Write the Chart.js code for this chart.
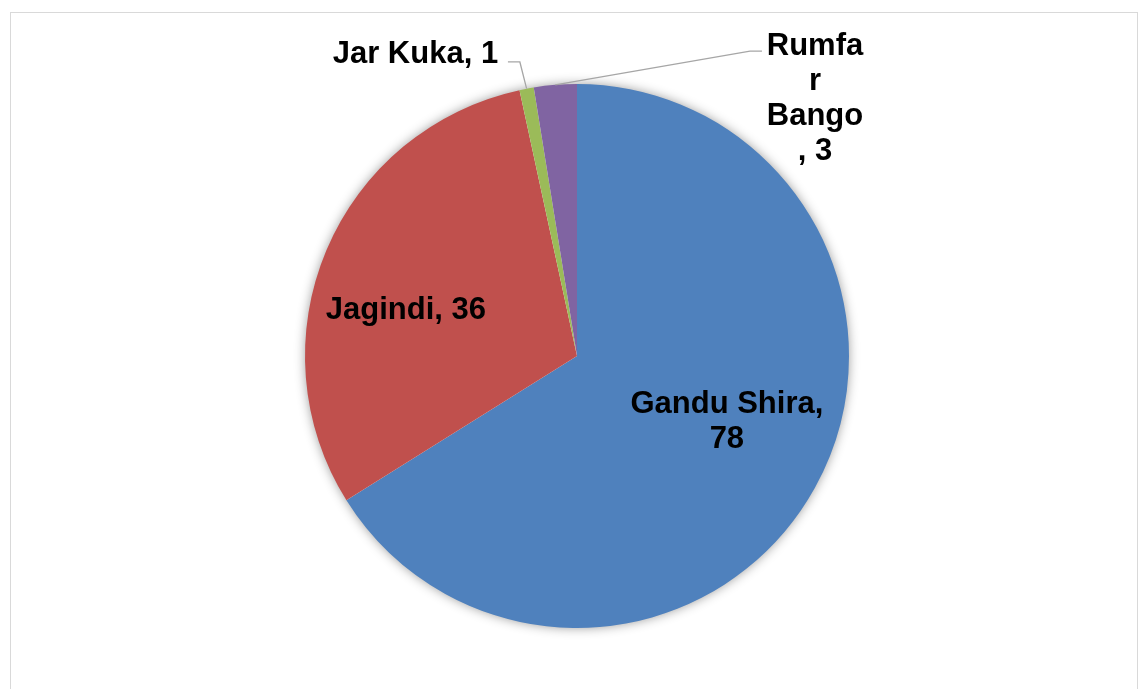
<!DOCTYPE html>
<html>
<head>
<meta charset="utf-8">
<script src="https://cdn.jsdelivr.net/npm/chart.js@4/dist/chart.umd.min.js"></script>
<style>
  html, body { margin: 0; padding: 0; background: #fff; }
  #frame { position: absolute; left: 10px; top: 12px; width: 1128px; height: 700px;
           border: 1.5px solid #d9d9d9; box-sizing: border-box; }
  #wrap { position: absolute; left: 0; top: 0; width: 1147px; height: 689px; }
</style>
</head>
<body>
<div id="frame"></div>
<div id="wrap"><canvas id="myChart"></canvas></div>
<script>
// villages and counts
const labels = ['Gandu Shira', 'Jagindi', 'Jar Kuka', 'Rumfar Bango'];
const values = [78, 36, 1, 3];
const colors = ['#4F81BD', '#C0504D', '#9BBB59', '#8064A2'];

// label placement, in units of pie radius from the centre
const labelPlace = [
  { x: 0.551, y: 0.210, align: 'center', wrap: 220 },
  { x: -0.629, y: -0.136, align: 'center', wrap: 220 },
  { x: -0.29, y: -1.077, align: 'right', wrap: 400, elbow: [-0.21, -1.081], tail: -0.044 },
  { x: 0.875, y: -1.107, align: 'center', wrap: 101, elbow: [0.636, -1.121], tail: 0.044 }
];

function wrapText(ctx, text, maxW) {
  const words = text.split(' ');
  const lines = [];
  let cur = '';
  words.forEach((w, i) => {
    let piece = (i === 0 ? '' : ' ') + w;
    if (cur !== '' && ctx.measureText(cur + piece).width > maxW) {
      lines.push(cur);
      cur = '';
      piece = w;
    }
    // break a word that is too wide on its own
    while (ctx.measureText(cur + piece).width > maxW) {
      let n = 0;
      while (n < piece.length && ctx.measureText(cur + piece.slice(0, n + 1)).width <= maxW) n++;
      lines.push(cur + piece.slice(0, n));
      cur = '';
      piece = piece.slice(n);
    }
    cur += piece;
  });
  if (cur !== '') lines.push(cur);
  return lines;
}

const shadowPlugin = {
  id: 'shadow',
  beforeDatasetsDraw(chart) {
    const arc = chart.getDatasetMeta(0).data[0];
    const ctx = chart.ctx;
    ctx.save();
    ctx.shadowColor = 'rgba(0,0,0,0.45)';
    ctx.shadowBlur = 12;
    ctx.fillStyle = '#fff';
    ctx.beginPath();
    ctx.arc(arc.x, arc.y, arc.outerRadius - 1, 0, Math.PI * 2);
    ctx.fill();
    ctx.restore();
  }
};

const labelPlugin = {
  id: 'sliceLabels',
  afterDatasetsDraw(chart) {
    const ctx = chart.ctx;
    const arcs = chart.getDatasetMeta(0).data;
    ctx.save();
    ctx.font = 'bold 31px "Liberation Sans", Arial, sans-serif';
    ctx.fillStyle = '#000';
    arcs.forEach((arc, i) => {
      const p = labelPlace[i];
      const cx = arc.x, cy = arc.y, r = arc.outerRadius;
      if (p.elbow) {
        const mid = (arc.startAngle + arc.endAngle) / 2;
        const ex = cx + p.elbow[0] * r, ey = cy + p.elbow[1] * r;
        ctx.strokeStyle = '#a6a6a6';
        ctx.lineWidth = 1.3;
        ctx.beginPath();
        ctx.moveTo(cx + Math.cos(mid) * r, cy + Math.sin(mid) * r);
        ctx.lineTo(ex, ey);
        ctx.lineTo(ex + p.tail * r, ey);
        ctx.stroke();
      }
      const lines = wrapText(ctx, labels[i] + ', ' + values[i], p.wrap);
      ctx.textAlign = p.align;
      ctx.textBaseline = 'alphabetic';
      lines.forEach((ln, k) => {
        ctx.fillText(ln, cx + p.x * r, cy + p.y * r + k * 35);
      });
    });
    ctx.restore();
  }
};

const ctx = document.getElementById('myChart').getContext('2d');
const myChart = new Chart(ctx, {
  type: 'pie',
  data: {
    labels: labels,
    datasets: [{
      data: values,
      backgroundColor: colors,
      borderWidth: 0
    }]
  },
  options: {
    responsive: true,
    maintainAspectRatio: false,
    animation: false,
    layout: { padding: { left: 305, right: 298, top: 84, bottom: 61 } },
    plugins: {
      legend: { display: false },
      tooltip: { enabled: false }
    }
  },
  plugins: [shadowPlugin, labelPlugin]
});
</script>
</body>
</html>
